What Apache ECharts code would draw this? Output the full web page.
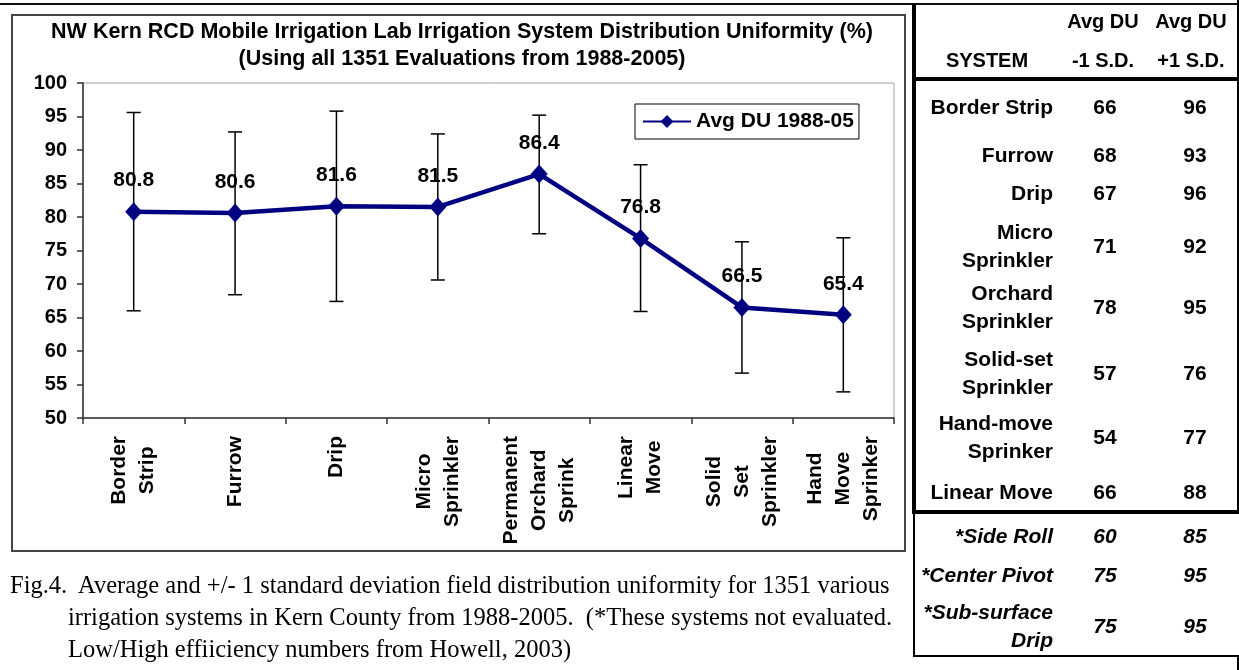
<!DOCTYPE html>
<html>
<head>
<meta charset="utf-8">
<script src="https://cdn.jsdelivr.net/npm/echarts@6/dist/echarts.min.js"></script>
<style>
  html, body { margin: 0; padding: 0; background: #fff; }
  #page { position: relative; width: 1239px; height: 670px; overflow: hidden; background: #fff; }
  #topline { position: absolute; left: 0; top: 3px; width: 1239px; height: 2px; background: #111; }
  #frame { position: absolute; left: 11px; top: 14px; width: 895px; height: 538px; box-sizing: border-box; border: 2px solid #444; }
  #chart { position: absolute; left: 0; top: 0; width: 1239px; height: 670px; }
  .ln { position: absolute; background: #000; }
  .cell { position: absolute; display: flex; align-items: center; font-family: 'Liberation Sans', Arial, sans-serif; font-weight: bold; font-size: 21px; line-height: 28px; color: #000; white-space: pre; }
  .sys { justify-content: flex-end; text-align: right; }
  .num { justify-content: center; text-align: center; }
  .it { font-style: italic; }
  .hd { font-size: 20px; }
  #caption { position: absolute; left: 10px; top: 569px; font-family: 'Liberation Serif', 'Times New Roman', serif; font-size: 24.5px; line-height: 32px; color: #000; white-space: nowrap; }
  #caption .ind { padding-left: 58px; }
</style>
</head>
<body>
<div id="page">
  <div id="topline"></div>
  <div id="frame"></div>
  <div id="chart"></div>
  <div id="table"></div>
  <div id="caption">
    <div>Fig.4.&nbsp; Average and +/- 1 standard deviation field distribution uniformity for 1351 various</div>
    <div class="ind">irrigation systems in Kern County from 1988-2005.&nbsp; (*These systems not evaluated.</div>
    <div class="ind">Low/High effiiciency numbers from Howell, 2003)</div>
  </div>
</div>
<script>
// chart data
const categories = ['Border\nStrip', 'Furrow', 'Drip', 'Micro\nSprinkler', 'Permanent\nOrchard\nSprink', 'Linear\nMove', 'Solid\nSet\nSprinkler', 'Hand\nMove\nSprinker'];
const avgDU = [80.8, 80.6, 81.6, 81.5, 86.4, 76.8, 66.5, 65.4];
const minusSD = [66.0, 68.4, 67.4, 70.6, 77.5, 65.9, 56.7, 53.9];
const plusSD = [95.6, 92.7, 95.8, 92.4, 95.2, 87.8, 76.3, 76.9];
const seriesName = 'Avg DU 1988-05';

// table data
const tableSystems = ['Border Strip', 'Furrow', 'Drip', 'Micro\nSprinkler', 'Orchard\nSprinkler', 'Solid-set\nSprinkler', 'Hand-move\nSprinker', 'Linear Move'];
const tableLow = [66, 68, 67, 71, 78, 57, 54, 66];
const tableHigh = [96, 93, 96, 92, 95, 76, 77, 88];
const otherSystems = ['*Side Roll', '*Center Pivot', '*Sub-surface\nDrip'];
const otherLow = [60, 75, 75];
const otherHigh = [85, 95, 95];

// table layout
const rowY = [107, 155, 193, 246, 307, 373, 437, 492];
const otherRowY = [536, 575, 626];

const tbl = document.getElementById('table');
function addDiv(cls, text, left, top, width, height) {
  const d = document.createElement('div');
  d.className = cls;
  d.textContent = text;
  d.style.left = left + 'px';
  d.style.top = top + 'px';
  if (width != null) d.style.width = width + 'px';
  if (height != null) d.style.height = height + 'px';
  tbl.appendChild(d);
  return d;
}
// lines
addDiv('ln', '', 912, 4, 4, 510);     // thick left
addDiv('ln', '', 912, 77, 327, 4);    // under header
addDiv('ln', '', 912, 510, 327, 4);   // bottom of upper box
addDiv('ln', '', 1237, 0, 2, 512);    // right
addDiv('ln', '', 913, 512, 2, 145);   // lower box left
addDiv('ln', '', 913, 655, 326, 2);   // lower box bottom
addDiv('ln', '', 1237, 656, 2, 14);

// header
addDiv('cell num hd', 'Avg DU', 1053, 7, 100, 28);
addDiv('cell num hd', 'Avg DU', 1141, 7, 100, 28);
addDiv('cell num hd', 'SYSTEM', 937, 46, 100, 28);
addDiv('cell num hd', '-1 S.D.', 1053, 46, 100, 28);
addDiv('cell num hd', '+1 S.D.', 1141, 46, 100, 28);

tableSystems.forEach((s, i) => {
  const y = rowY[i];
  addDiv('cell sys', s, 920, y - 30, 133, 60);
  addDiv('cell num', String(tableLow[i]), 1075, y - 30, 60, 60);
  addDiv('cell num', String(tableHigh[i]), 1165, y - 30, 60, 60);
});
otherSystems.forEach((s, i) => {
  const y = otherRowY[i];
  addDiv('cell sys it', s, 918, y - 30, 135, 60);
  addDiv('cell num it', String(otherLow[i]), 1075, y - 30, 60, 60);
  addDiv('cell num it', String(otherHigh[i]), 1165, y - 30, 60, 60);
});

const myChart = echarts.init(document.getElementById('chart'));
const font = "'Liberation Sans', Arial, sans-serif";

const option = {
  animation: false,
  title: {
    text: 'NW Kern RCD Mobile Irrigation Lab Irrigation System Distribution Uniformity (%)\n(Using all 1351 Evaluations from 1988-2005)',
    left: 457,
    top: 14,
    textAlign: 'center',
    textStyle: { fontFamily: font, fontWeight: 'bold', fontSize: 21.5, lineHeight: 27, color: '#000' }
  },
  legend: {
    data: [seriesName],
    left: 635,
    top: 104,
    padding: [7, 5, 7, 7],
    itemWidth: 48,
    itemHeight: 16,
    itemGap: 5,
    borderColor: '#000',
    borderWidth: 1,
    backgroundColor: '#fff',
    textStyle: { fontFamily: font, fontWeight: 'bold', fontSize: 21, color: '#000' }
  },
  grid: {
    left: 83,
    top: 83,
    right: 345,
    bottom: 252,
    show: true,
    borderColor: '#a0a0a0',
    borderWidth: 1,
    backgroundColor: 'transparent'
  },
  xAxis: {
    type: 'category',
    data: categories,
    axisLine: { lineStyle: { color: '#333', width: 1.5 } },
    axisTick: { show: true, length: 6, lineStyle: { color: '#333', width: 1.5 } },
    axisLabel: {
      interval: 0,
      rotate: 90,
      margin: 18,
      formatter: (v) => v.split('\n').map(l => '{c|' + l + '}').join('\n'),
      rich: {
        c: { align: 'center', fontFamily: font, fontWeight: 'bold', fontSize: 21, lineHeight: 28, color: '#000' }
      }
    }
  },
  yAxis: {
    type: 'value',
    min: 50,
    max: 100,
    interval: 5,
    splitLine: { show: false },
    axisLine: { show: true, lineStyle: { color: '#333', width: 1.5 } },
    axisTick: { show: true, length: 6, lineStyle: { color: '#333', width: 1.5 } },
    axisLabel: { margin: 16, fontFamily: font, fontWeight: 'bold', fontSize: 20, color: '#000' }
  },
  series: [
    {
      type: 'custom',
      z: 1,
      silent: true,
      renderItem: (params, api) => {
        const x = api.value(0);
        const lo = api.coord([x, api.value(1)]);
        const hi = api.coord([x, api.value(2)]);
        const w = 7;
        const st = { stroke: '#000', lineWidth: 1.5 };
        return {
          type: 'group',
          children: [
            { type: 'line', shape: { x1: lo[0], y1: lo[1], x2: hi[0], y2: hi[1] }, style: st },
            { type: 'line', shape: { x1: lo[0] - w, y1: lo[1], x2: lo[0] + w, y2: lo[1] }, style: st },
            { type: 'line', shape: { x1: hi[0] - w, y1: hi[1], x2: hi[0] + w, y2: hi[1] }, style: st }
          ]
        };
      },
      data: avgDU.map((v, i) => [i, minusSD[i], plusSD[i]])
    },
    {
      name: seriesName,
      type: 'line',
      z: 2,
      data: avgDU,
      symbol: 'diamond',
      symbolSize: [17, 19],
      lineStyle: { color: '#000080', width: 4.5 },
      itemStyle: { color: '#000080' },
      label: {
        show: true,
        position: 'top',
        distance: 11,
        formatter: (p) => p.value.toFixed(1),
        fontFamily: font,
        fontWeight: 'bold',
        fontSize: 21,
        color: '#000'
      }
    }
  ]
};

myChart.setOption(option);
</script>
</body>
</html>
